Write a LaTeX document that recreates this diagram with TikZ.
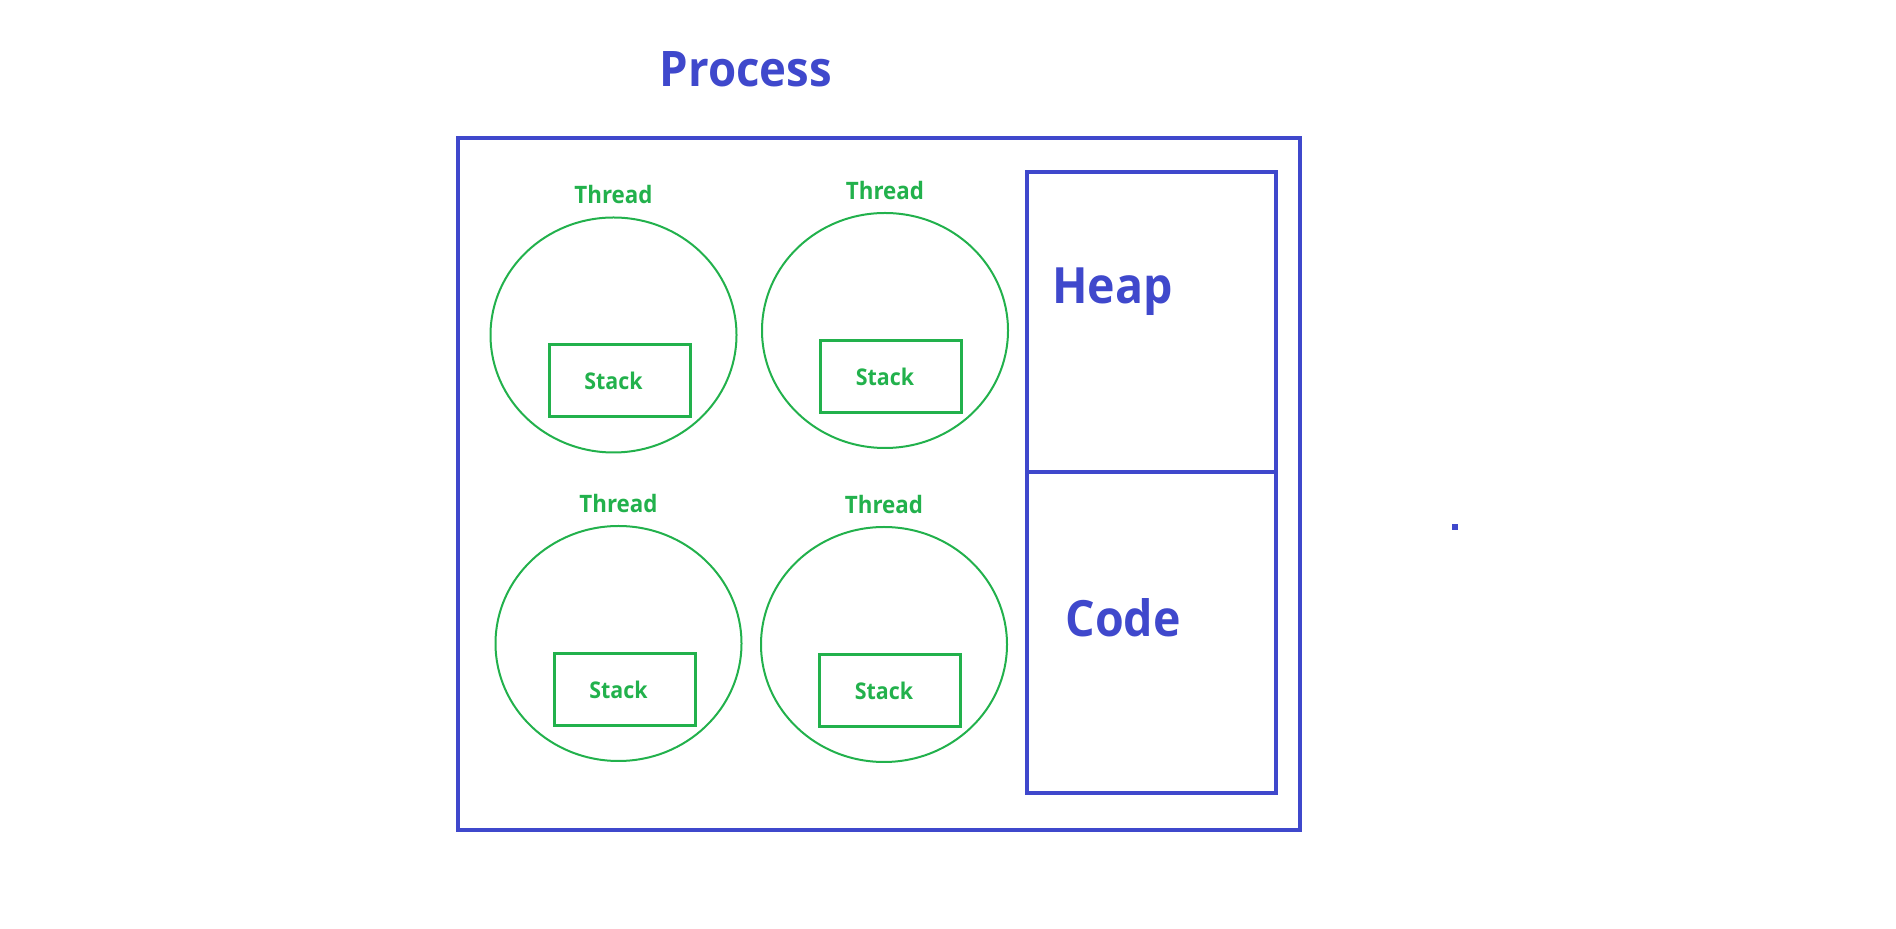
\documentclass[tikz,border=0pt]{standalone}
\usepackage{fontspec}
\setmainfont{Open Sans}
\newfontfamily\paintfont[FakeStretch=0.93]{Open Sans} % a bit narrower, closer to the screenshot
\usetikzlibrary{shapes.geometric, positioning}
\definecolor{procblue}{RGB}{63,72,204}
\definecolor{threadgreen}{RGB}{34,177,76}
\tikzset{
x=0.5pt, y=-0.5pt, % one unit is one pixel of the screenshot, y grows downwards
thread/.style={ellipse, draw=threadgreen, line width=1pt, minimum width=123pt, minimum height=117.5pt, inner sep=0pt}, % the green circles
stackbox/.style={rectangle, draw=threadgreen, line width=1.5pt, minimum width=70.5pt, minimum height=36pt, text=threadgreen, font=\paintfont\bfseries\fontsize{11.5}{13}\selectfont},
threadname/.style={text=threadgreen, inner sep=0pt, font=\paintfont\bfseries\fontsize{12}{14}\selectfont},
memory/.style={rectangle, draw=procblue, line width=2pt, minimum width=124.5pt}, % heap and code boxes
bigtext/.style={text=procblue, inner sep=0pt, font=\paintfont\bfseries\fontsize{24.5}{28}\selectfont},
}
\begin{document}
\begin{tikzpicture}
    \useasboundingbox (0,0) rectangle (1896,929);

    \node[bigtext, anchor=base] (title) at (746,87) {Process};
    \node[rectangle, draw=procblue, line width=2.25pt, minimum width=421pt, minimum height=346pt] (process) at (879,484) {};

    % threads
    \node[thread] (t1) at (613.5,335) {};
    \node[thread] (t2) at (885,330.5) {};
    \node[thread] (t3) at (618.5,643.5) {};
    \node[thread] (t4) at (884,644.5) {};

    \node[threadname, above=6pt of t1] (n1) {Thread};
    \node[threadname, above=6pt of t2] (n2) {Thread};
    \node[threadname, above=6pt of t3] (n3) {Thread};
    \node[threadname, above=6pt of t4] (n4) {Thread};

    \node[stackbox, xshift=3pt, yshift=-23pt] (s1) at (t1) {\hspace*{-6pt}Stack};
    \node[stackbox, xshift=3pt, yshift=-23pt] (s2) at (t2) {\hspace*{-6pt}Stack};
    \node[stackbox, xshift=3pt, yshift=-23pt] (s3) at (t3) {\hspace*{-6pt}Stack};
    \node[stackbox, xshift=3pt, yshift=-23pt] (s4) at (t4) {\hspace*{-6pt}Stack};

    % shared memory
    \node[memory, minimum height=150pt] (heap) at (1151.5,322) {};
    \node[memory, minimum height=160.5pt] (code) at (1151.5,632.5) {};
    \node[bigtext, font=\paintfont\bfseries\fontsize{25}{28}\selectfont, anchor=base west] (heaplabel) at (1052,304) {Heap};
    \node[bigtext, font=\paintfont\bfseries\fontsize{25}{28}\selectfont, anchor=base west] (codelabel) at (1065,637) {Code};

    \fill[procblue] (1452,524) rectangle (1458,530);
\end{tikzpicture}
\end{document}
